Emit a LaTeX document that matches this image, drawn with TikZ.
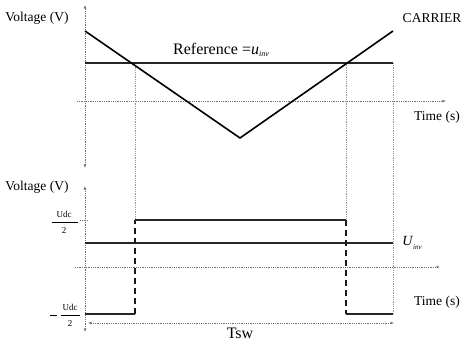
\documentclass[tikz,border=0pt]{standalone}
\usepackage{fontspec}
\setmainfont{Liberation Serif}
\usetikzlibrary{arrows.meta}
\begin{document}
\begin{tikzpicture}[x=1pt,y=-1pt,
  axis/.style={densely dotted, black!55, line width=0.8pt},
  tip/.style={-{Latex[length=3.5pt,width=3pt]}},
  guide/.style={densely dotted, black!40, line width=0.8pt},
  wave/.style={line width=1.6pt, black},
  level/.style={line width=2.6pt, black!85},
  pulse/.style={line width=2.2pt, black!90, dash pattern=on 6pt off 4pt},
  lbl/.style={inner sep=0pt, font=\fontsize{13.5}{14}\selectfont},
  small/.style={inner sep=0pt, font=\fontsize{9}{10}\selectfont}]
\useasboundingbox (0,0) rectangle (474,342);
% ---- key points
\coordinate (o1) at (85,101);
\coordinate (yt1) at (85,5);
\coordinate (yb1) at (85,168);
\coordinate (xl1) at (77,101);
\coordinate (xr1) at (446,101);
\coordinate (c0) at (85,31);
\coordinate (c1) at (240,138);
\coordinate (c2) at (393,31);
\coordinate (r0) at (85,63);
\coordinate (r1) at (393,63);
\coordinate (a) at (135,63);
\coordinate (b) at (346,63);
% bottom
\coordinate (yt2) at (85,186);
\coordinate (yb2) at (85,332);
\coordinate (xl2) at (75,267);
\coordinate (xr2) at (440,267);
\coordinate (lo0) at (85,314);
\coordinate (loa) at (135,314);
\coordinate (hia) at (135,220);
\coordinate (hib) at (346,220);
\coordinate (lob) at (346,314);
\coordinate (lo1) at (393,314);
\coordinate (u0) at (85,243);
\coordinate (u1) at (393,243);
\coordinate (t0) at (88,323);
\coordinate (t1) at (394,323);
% ---- axes
\draw[axis,{Latex[length=3.5pt,width=3pt]}-{Latex[length=3.5pt,width=3pt]}] (yb1) -- (yt1);
\draw[axis,tip] (xl1) -- (xr1);
\draw[axis,{Latex[length=3.5pt,width=3pt]}-{Latex[length=3.5pt,width=3pt]}] (yb2) -- (yt2);
\draw[axis,tip] (xl2) -- (xr2);
\draw[axis] (80,220) -- (89,220);
% ---- guides
\draw[guide] (a) -- (hia);
\draw[guide] (b) -- (hib);
\draw[guide] (r1) -- (lo1);
% ---- top waveforms
\draw[level] (r0) -- (r1);
\draw[wave] (c0) -- (c1) -- (c2);
% ---- bottom waveforms
\draw[level] (u0) -- (u1);
\draw[level] (lo0) -- (loa);
\draw[pulse] (loa) -- (hia);
\draw[level] (hia) -- (hib);
\draw[pulse] (hib) -- (lob);
\draw[level] (lob) -- (lo1);
\draw[axis,{Latex[length=3.5pt,width=3pt]}-{Latex[length=3.5pt,width=3pt]}] (t0) -- (t1);
% ---- labels
\node[lbl] (v1) at (37,18) {Voltage (V)};
\node[lbl] (car) at (432,18) {CARRIER};
\node[lbl] (tm1) at (437,117) {Time (s)};
\node[inner sep=0pt, font=\fontsize{16}{18}\selectfont] (ref) at (221,50) {Reference =\textit{u}\raisebox{-0.35ex}{\fontsize{8}{9}\selectfont\textit{inv}}};
\node[lbl] (v2) at (37,187) {Voltage (V)};
\node[lbl] (tm2) at (437,302) {Time (s)};
\node[inner sep=0pt, font=\fontsize{14}{15}\selectfont] (uinv) at (412,243) {\textit{U}\raisebox{-0.6ex}{\fontsize{7}{8}\selectfont\textit{inv}}};
\node[inner sep=0pt, font=\fontsize{16}{18}\selectfont] (tsw) at (240,333) {Tsw};
% Udc/2 fractions
\node[small] (n1) at (64,214) {Udc};
\draw[line width=0.7pt] (52,222) -- (78,222);
\node[small] (d1) at (64,231) {2};
\node[small] (n2) at (70,307) {Udc};
\draw[line width=0.7pt] (50,315) -- (57,315);
\draw[line width=0.7pt] (61,315) -- (80,315);
\node[small] (d2) at (70,324) {2};
\end{tikzpicture}
\end{document}
